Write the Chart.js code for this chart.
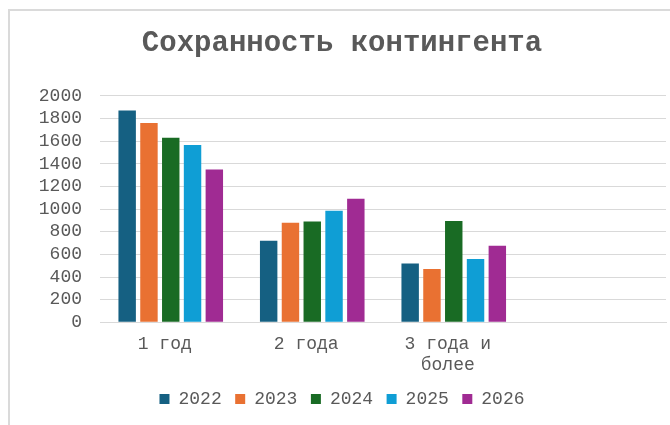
<!DOCTYPE html>
<html>
<head>
<meta charset="utf-8">
<script src="https://cdn.jsdelivr.net/npm/chart.js@4"></script>
<style>
    body { margin: 0; background: #fff; }
    #wrap { position: relative; width: 670px; height: 425px; overflow: hidden; }
    #frame { position: absolute; left: 8px; top: 9px; width: 700px; height: 500px;
             border-left: 2px solid #dadada; border-top: 2px solid #dadada; }
    #myChart { position: absolute; left: 0; top: 0; }
</style>
</head>
<body>
<div id="wrap">
    <div id="frame"></div>
    <canvas id="myChart" width="670" height="425"></canvas>
</div>
<script>
    const categories = ['1 год', '2 года', ['3 года и', 'более'], ''];
    const years = ['2022', '2023', '2024', '2025', '2026'];
    const values2022 = [1870, 720, 520, null];
    const values2023 = [1760, 880, 470, null];
    const values2024 = [1630, 890, 895, null];
    const values2025 = [1565, 985, 560, null];
    const values2026 = [1350, 1090, 675, null];
    const colors = ['#156082', '#E97132', '#196B24', '#0F9ED5', '#A02B93'];
    const yTicks = [0, 200, 400, 600, 800, 1000, 1200, 1400, 1600, 1800, 2000];

    const seriesValues = [values2022, values2023, values2024, values2025, values2026];
    const textColor = '#595959';
    const fontFamily = '"Liberation Mono", "Courier New", monospace';

    const ctx = document.getElementById('myChart');

    const myChart = new Chart(ctx, {
        type: 'bar',
        data: {
            labels: categories,
            datasets: years.map(function (year, i) {
                return {
                    label: year,
                    data: seriesValues[i],
                    backgroundColor: colors[i],
                    borderWidth: 0,
                    barPercentage: 0.8,
                    categoryPercentage: 0.77
                };
            })
        },
        options: {
            responsive: false,
            animation: false,
            layout: {
                padding: { left: 18, right: 4, top: 0, bottom: 7 }
            },
            scales: {
                x: {
                    afterFit: function (scale) { scale.height = scale.height - 11; },
                    grid: { display: false, drawTicks: false },
                    border: { color: '#d9d9d9', width: 1 },
                    ticks: {
                        color: textColor,
                        font: { family: fontFamily, size: 18 },
                        maxRotation: 0,
                        autoSkip: false,
                        labelOffset: -6,
                        padding: 11
                    }
                },
                y: {
                    min: 0,
                    max: 2000,
                    afterFit: function (scale) { scale.width = 82; },
                    afterBuildTicks: function (scale) {
                        scale.ticks = yTicks.map(function (v) { return { value: v }; });
                    },
                    grid: { color: '#d9d9d9', lineWidth: 1, drawTicks: false },
                    border: { display: false },
                    ticks: {
                        color: textColor,
                        font: { family: fontFamily, size: 18 },
                        padding: 18,
                        autoSkip: false,
                        callback: function (value) { return String(value); }
                    }
                }
            },
            plugins: {
                title: {
                    display: true,
                    text: 'Сохранность контингента',
                    color: textColor,
                    font: { family: fontFamily, size: 29, weight: 'bold' },
                    padding: { top: 26, bottom: 35 }
                },
                legend: {
                    position: 'bottom',
                    labels: {
                        color: textColor,
                        font: { family: fontFamily, size: 18 },
                        boxWidth: 10,
                        boxHeight: 10,
                        padding: 13.5
                    }
                },
                tooltip: { enabled: false }
            }
        }
    });
</script>
</body>
</html>
